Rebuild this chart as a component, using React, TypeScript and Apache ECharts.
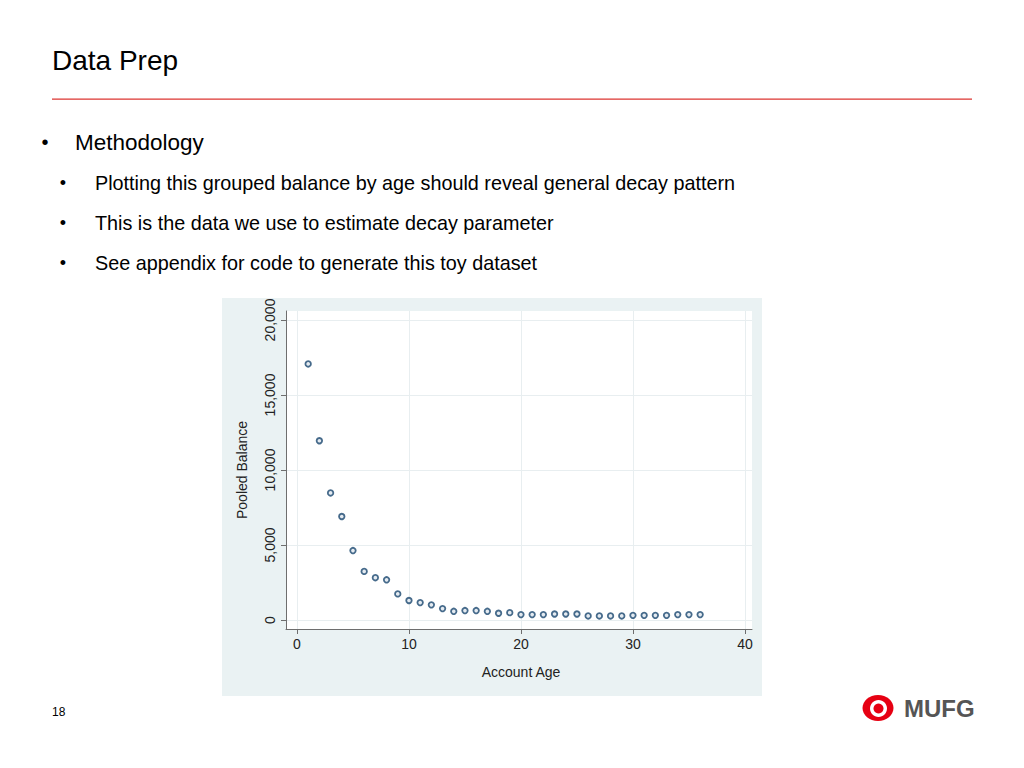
import React, { useEffect, useRef } from "react";
import * as echarts from "echarts";

const ages = [
  1, 2, 3, 4, 5, 6, 7, 8, 9, 10, 11, 12, 13, 14, 15, 16, 17, 18, 19, 20, 21, 22, 23, 24, 25, 26, 27,
  28, 29, 30, 31, 32, 33, 34, 35, 36,
];
const pooledBalance = [
  17070, 11950, 8470, 6900, 4630, 3240, 2820, 2680, 1740, 1300, 1160, 1010, 760, 580, 630, 630, 580,
  450, 490, 360, 360, 360, 400, 400, 400, 270, 270, 270, 270, 310, 310, 310, 310, 360, 360, 360,
];
const xTicks = [0, 10, 20, 30, 40];
const yTicks = [0, 5000, 10000, 15000, 20000];

const titleText = "Data Prep";
const bulletMain = "Methodology";
const bulletSubs = [
  "Plotting this grouped balance by age should reveal general decay pattern",
  "This is the data we use to estimate decay parameter",
  "See appendix for code to generate this toy dataset",
];
const pageNumber = "18";
const logoText = "MUFG";

const FONT = "'Liberation Sans', Arial, Helvetica, sans-serif";

export default function App() {
  const ref = useRef<HTMLDivElement>(null);
  useEffect(() => {
    if (!ref.current) return;
    const chart = echarts.init(ref.current, null, { renderer: "svg" });
    const subY = [183, 223, 263];
    const graphics: any[] = [
      {
        type: "rect",
        z: -100,
        shape: { x: 222, y: 298, width: 540, height: 398 },
        style: { fill: "#eaf2f3" },
      },
      {
        type: "text",
        x: 52,
        y: 60,
        style: { text: titleText, font: `28px ${FONT}`, fill: "#000", verticalAlign: "middle" },
      },
      {
        type: "rect",
        shape: { x: 52, y: 98.5, width: 920, height: 1.3 },
        style: { fill: "#dc3530" },
      },
      {
        type: "text",
        x: 45,
        y: 142,
        style: { text: "•", font: `20px ${FONT}`, fill: "#000", verticalAlign: "middle", align: "center" },
      },
      {
        type: "text",
        x: 75,
        y: 142,
        style: { text: bulletMain, font: `22.5px ${FONT}`, fill: "#000", verticalAlign: "middle" },
      },
      ...bulletSubs.flatMap((t, i) => [
        {
          type: "text",
          x: 63,
          y: subY[i],
          style: { text: "•", font: `18px ${FONT}`, fill: "#000", verticalAlign: "middle", align: "center" },
        },
        {
          type: "text",
          x: 95,
          y: subY[i],
          style: { text: t, font: `19.8px ${FONT}`, fill: "#000", verticalAlign: "middle" },
        },
      ]),
      {
        type: "text",
        x: 52,
        y: 712,
        style: { text: pageNumber, font: `12px ${FONT}`, fill: "#000", verticalAlign: "middle" },
      },
      {
        type: "ellipse",
        shape: { cx: 878, cy: 708, rx: 15.5, ry: 13 },
        style: { fill: "#e60012" },
      },
      {
        type: "ellipse",
        shape: { cx: 878.5, cy: 708.5, rx: 8.5, ry: 8.5 },
        style: { fill: "#fff" },
      },
      {
        type: "circle",
        shape: { cx: 878.5, cy: 708.5, r: 5 },
        style: { fill: "#e60012" },
      },
      {
        type: "text",
        x: 904,
        y: 708,
        style: { text: logoText, font: `bold 24px ${FONT}`, fill: "#555", verticalAlign: "middle" },
      },
    ];

    chart.setOption({
      animation: false,
      backgroundColor: "#fff",
      graphic: graphics,
      grid: {
        left: 286,
        right: 1024 - 752,
        top: 311,
        bottom: 768 - 629,
        show: true,
        backgroundColor: "#fff",
        borderWidth: 0,
        outerBoundsMode: "none",
      },
      xAxis: {
        type: "value",
        min: -0.98,
        max: 40.63,
        name: "Account Age",
        nameLocation: "middle",
        nameGap: 36,
        nameTextStyle: { fontFamily: FONT, fontSize: 14, color: "#222", padding: [0, 0, 0, 4] },
        axisLine: { show: true, onZero: false, lineStyle: { color: "#6e6e6e", width: 1 } },
        axisTick: { show: true, customValues: xTicks, length: 5, lineStyle: { color: "#6e6e6e" } },
        axisLabel: {
          customValues: xTicks,
          fontFamily: FONT,
          fontSize: 14,
          color: "#222",
          margin: 8,
        },
        splitLine: { show: true, lineStyle: { color: "#e8eef0", width: 1 } },
      },
      yAxis: {
        type: "value",
        min: -600,
        max: 20600,
        name: "Pooled Balance",
        nameLocation: "middle",
        nameGap: 37,
        nameTextStyle: { fontFamily: FONT, fontSize: 14, color: "#222" },
        axisLine: { show: true, onZero: false, lineStyle: { color: "#6e6e6e", width: 1 } },
        axisTick: { show: true, customValues: yTicks, length: 5, lineStyle: { color: "#6e6e6e" } },
        axisLabel: {
          customValues: yTicks,
          rotate: 90,
          fontFamily: FONT,
          fontSize: 14,
          color: "#222",
          margin: 9,
          formatter: (v: number) => v.toLocaleString("en-US"),
        },
        splitLine: { show: true, lineStyle: { color: "#e8eef0", width: 1 } },
      },
      series: [
        {
          type: "scatter",
          data: ages.map((a, i) => [a, pooledBalance[i]]),
          symbol: "circle",
          symbolSize: 5.5,
          itemStyle: { color: "#dfe6ee", borderColor: "#1a476f", borderWidth: 1.8 },
        },
      ],
    });
    return () => chart.dispose();
  }, []);
  return (
    <div
      ref={ref}
      style={{ position: "absolute", left: 0, top: 0, width: 1024, height: 768 }}
    />
  );
}
